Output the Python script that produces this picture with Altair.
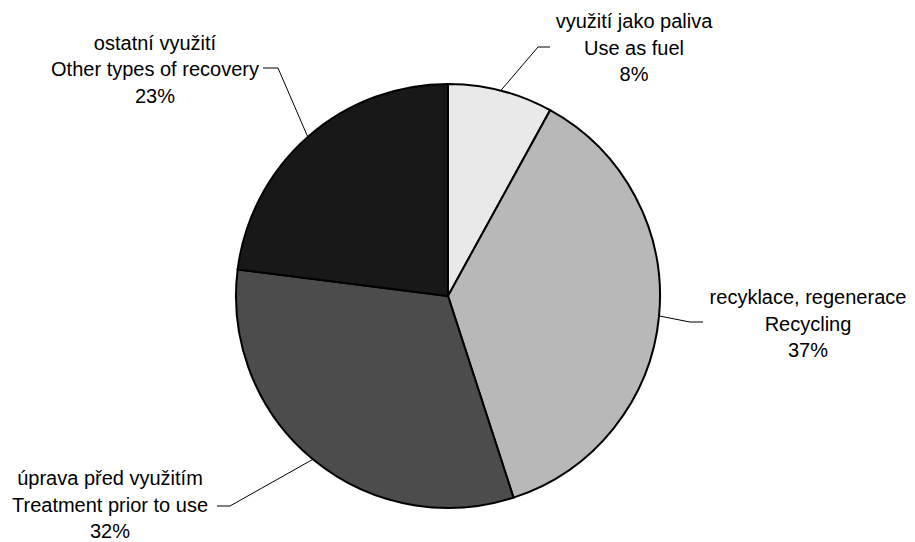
import math
import altair as alt
import pandas as pd

# ---- data ----
names_cz = ["využití jako paliva", "recyklace, regenerace", "úprava před využitím", "ostatní využití"]
names_en = ["Use as fuel", "Recycling", "Treatment prior to use", "Other types of recovery"]
shares = [8, 37, 32, 23]

# ---- styling / layout (page pixel coordinates) ----
fills = ["#e9e9e9", "#b8b8b8", "#4c4c4c", "#181818"]
W, H = 899, 534
CX, CY, R = 448, 296, 212          # pie centre and radius on the page
label_xy = [(634, 22), (808, 298), (110, 479), (155, 43.5)]   # first line of each label
elbow_xy = [(538, 47), (690, 322), (230, 506), (278, 68)]
end_xy = [(550, 47), (703, 322), (217, 506), (263, 68)]

total = sum(shares)
df = pd.DataFrame({
    "cz": names_cz,
    "en": names_en,
    "share": shares,
    "order": list(range(len(shares))),
})
df["label"] = df["cz"] + "\n" + df["en"] + "\n" + df["share"].astype(str) + "%"
df["lx"] = [p[0] for p in label_xy]
df["ly"] = [p[1] for p in label_xy]

# leader lines: start on the rim at each slice's mid angle
rows = []
cum = 0
for i, s in enumerate(shares):
    mid = (cum + s / 2) / total * 2 * math.pi
    cum += s
    sx = CX + R * math.sin(mid)
    sy = CY - R * math.cos(mid)
    for j, (px, py) in enumerate([(sx, sy), elbow_xy[i], end_xy[i]]):
        rows.append({"cat": names_cz[i], "idx": j, "x": px, "y": py})
lines = pd.DataFrame(rows)

xs = alt.Scale(domain=[8, 8 + W], nice=False, zero=False)
ys = alt.Scale(domain=[8, 8 + H], nice=False, zero=False, reverse=True)

leaders = alt.Chart(lines).mark_line(color="black", strokeWidth=1).encode(
    x=alt.X("x:Q", scale=xs, axis=None),
    y=alt.Y("y:Q", scale=ys, axis=None),
    detail="cat:N",
    order="idx:Q",
)

pie = alt.Chart(df).mark_arc(radius=R, stroke="black", strokeWidth=2).encode(
    theta=alt.Theta("share:Q", stack=True),
    order=alt.Order("order:Q"),
    color=alt.Color("cz:N", scale=alt.Scale(domain=names_cz, range=fills), legend=None),
    x=alt.value(CX - 8),
    y=alt.value(CY - 8),
)

labels = alt.Chart(df).mark_text(
    font="Liberation Sans", fontSize=20, lineBreak="\n", lineHeight=26.5,
    align="center", baseline="middle", color="black",
).encode(
    x=alt.X("lx:Q", scale=xs, axis=None),
    y=alt.Y("ly:Q", scale=ys, axis=None),
    text="label:N",
)

chart = alt.layer(leaders, pie, labels).properties(
    width=W, height=H, padding=0, background="white",
    autosize=alt.AutoSizeParams(type="none"),
).configure_view(stroke=None)

chart.save("out.html", embed_options={"renderer": "svg", "actions": False})
